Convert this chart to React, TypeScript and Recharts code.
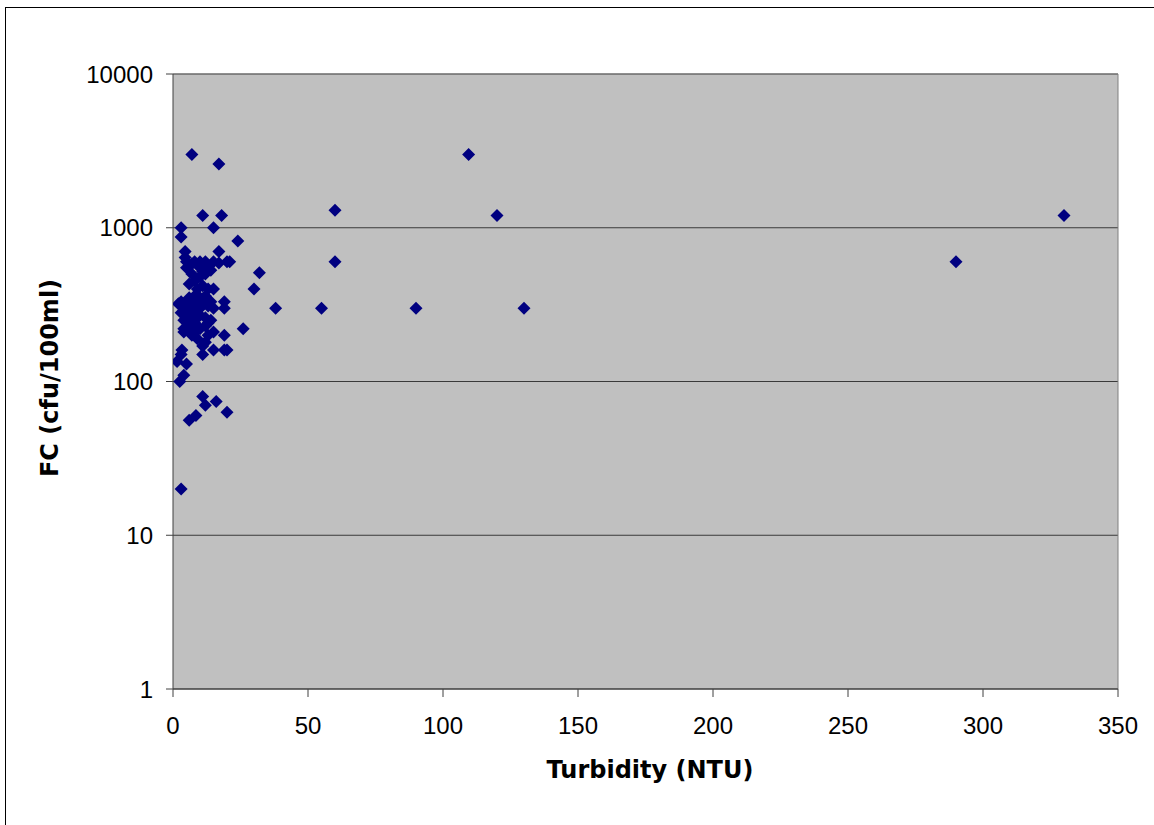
import React from 'react';
import { ScatterChart, Scatter, XAxis, YAxis, CartesianGrid, ReferenceLine, Label } from 'recharts';

const turbidity: number[] = [
  7, 17, 109.5, 60, 120, 330, 290, 60, 11, 18,
  3, 3, 15, 24, 17, 4.5, 4.5, 21, 32, 30,
  38, 55, 90, 130, 26, 19, 19, 3.3, 3, 1.5,
  5, 2.5, 4, 11, 16, 12, 20, 8.5, 6, 3,
  3, 3, 4, 4, 4, 5, 5, 5, 5, 6,
  6, 6, 6, 6, 7, 7, 7, 7, 7, 7,
  8, 8, 8, 8, 8, 8, 8, 9, 9, 9,
  9, 10, 10, 10, 10, 10, 10, 10, 11, 11,
  11, 11, 11, 12, 12, 12, 12, 12, 12, 13,
  13, 13, 13, 14, 14, 14, 15, 15, 15, 15,
  15, 17, 19, 19, 20, 20, 2, 4, 9, 13,
];

const fc: number[] = [
  3000, 2600, 3000, 1300, 1200, 1200, 600, 600, 1200, 1200,
  1000, 870, 1000, 820, 700, 700, 640, 600, 510, 400,
  300, 300, 300, 300, 220, 200, 160, 160, 150, 135,
  130, 100, 110, 80, 74, 70, 63, 60, 56, 20,
  330, 280, 250, 210, 300, 600, 550, 320, 260, 430,
  350, 300, 270, 230, 580, 500, 330, 290, 250, 200,
  600, 450, 360, 310, 280, 240, 210, 400, 330, 260,
  230, 600, 550, 480, 350, 300, 270, 220, 520, 420,
  330, 150, 170, 600, 500, 360, 260, 230, 180, 560,
  400, 310, 200, 530, 330, 250, 600, 400, 300, 210,
  160, 590, 330, 300, 600, 160, 320, 220, 190, 240,
];

const xTicks: number[] = [0, 50, 100, 150, 200, 250, 300, 350];
const yTicks: number[] = [1, 10, 100, 1000, 10000];

const points = turbidity.map((t, i) => ({ x: t, y: fc[i] }));

const Diamond = (props: any) => {
  const { cx, cy } = props;
  if (cx == null || cy == null) return null;
  const r = 6.5;
  return (
    <path
      d={`M${cx},${cy - r}L${cx + r},${cy}L${cx},${cy + r}L${cx - r},${cy}Z`}
      fill="#000080"
    />
  );
};

const tickStyle = { fontFamily: '"Liberation Sans", Arial, sans-serif', fontSize: 24, fill: '#000' };
const titleFont = '"DejaVu Sans", Tahoma, sans-serif';

export default function App() {
  return (
    <div style={{ position: 'absolute', left: 0, top: 0, width: 1154, height: 825, background: '#fff' }}>
      <div
        style={{
          position: 'absolute',
          left: 5,
          top: 7,
          width: 1160,
          height: 830,
          border: '1px solid #000',
          boxSizing: 'border-box',
        }}
      />
      <div style={{ position: 'absolute', left: 0, top: 0 }}>
        <ScatterChart width={1154} height={825} margin={{ top: 74, right: 36, left: 0, bottom: 0 }}>
          <CartesianGrid vertical={false} fill="#C0C0C0" stroke="#3a3a3a" strokeWidth={1} fillOpacity={1} />
          <XAxis
            type="number"
            dataKey="x"
            domain={[0, 350]}
            ticks={xTicks}
            allowDataOverflow
            height={136}
            tickSize={8}
            tickMargin={20}
            stroke="#404040"
            tick={tickStyle}
            interval={0}
          >
            <Label
              content={() => (
                <text
                  x={650}
                  y={778}
                  textAnchor="middle"
                  style={{ fontFamily: titleFont, fontSize: 24, fontWeight: 'bold', fill: '#000' }}
                >
                  Turbidity (NTU)
                </text>
              )}
            />
          </XAxis>
          <YAxis
            type="number"
            dataKey="y"
            scale="log"
            domain={[1, 10000]}
            ticks={yTicks}
            allowDataOverflow
            width={173}
            tickSize={7}
            tickMargin={13}
            stroke="#404040"
            tick={tickStyle}
            interval={0}
          >
            <Label
              content={() => (
                <text
                  x={58}
                  y={378}
                  transform="rotate(-90 58 378)"
                  textAnchor="middle"
                  style={{ fontFamily: titleFont, fontSize: 24, fontWeight: 'bold', fill: '#000' }}
                >
                  FC (cfu/100ml)
                </text>
              )}
            />
          </YAxis>
          <ReferenceLine x={350} stroke="#808080" ifOverflow="visible" />
          <ReferenceLine y={10000} stroke="#808080" ifOverflow="visible" />
          <Scatter data={points} shape={<Diamond />} isAnimationActive={false} />
        </ScatterChart>
      </div>
    </div>
  );
}
